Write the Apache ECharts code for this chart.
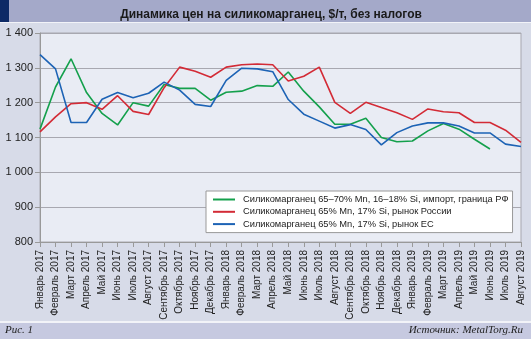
<!DOCTYPE html>
<html><head><meta charset="utf-8">
<script src="https://cdn.jsdelivr.net/npm/echarts@6/dist/echarts.min.js"></script>
<style>html,body{margin:0;padding:0;background:#d7dbe8}#c{width:531px;height:339px}</style>
</head><body><div id="c"></div>
<script>
const categories = ["Январь 2017","Февраль 2017","Март 2017","Апрель 2017","Май 2017","Июнь 2017","Июль 2017","Август 2017","Сентябрь 2017","Октябрь 2017","Ноябрь 2017","Декабрь 2017","Январь 2018","Февраль 2018","Март 2018","Апрель 2018","Май 2018","Июнь 2018","Июль 2018","Август 2018","Сентябрь 2018","Октябрь 2018","Ноябрь 2018","Декабрь 2018","Январь 2019","Февраль 2019","Март 2019","Апрель 2019","Май 2019","Июнь 2019","Июль 2019","Август 2019"];
const importRF = [1124,1245,1326,1229,1169,1136,1200,1190,1252,1241,1241,1207,1230,1233,1249,1247,1288,1233,1188,1138,1138,1155,1100,1088,1090,1119,1140,1124,1095,1067,null,null];
const russia = [1116,1159,1197,1200,1181,1220,1175,1166,1243,1302,1290,1273,1302,1309,1311,1309,1262,1276,1302,1201,1169,1201,1186,1171,1152,1182,1174,1171,1143,1143,1121,1086];
const eu = [1338,1297,1143,1143,1210,1229,1214,1227,1259,1236,1195,1189,1264,1299,1297,1289,1209,1167,1147,1127,1137,1123,1079,1114,1133,1142,1142,1133,1113,1113,1081,1074];
const seriesNames = ["Силикомарганец 65–70% Mn, 16–18% Si, импорт, граница РФ","Силикомарганец 65% Mn, 17% Si, рынок России","Силикомарганец 65% Mn, 17% Si, рынок ЕС"];
const yTicks = {min: 800, max: 1400, interval: 100};

const chart = echarts.init(document.getElementById('c'), null, {renderer: 'canvas'});
const font = '"Liberation Sans", Arial, sans-serif';
const mk = (name, data, color) => ({
  name, type: 'line', data, symbol: 'none', smooth: false, connectNulls: false,
  lineStyle: {color, width: 1.6}, itemStyle: {color}, z: 5
});
chart.setOption({
  animation: false,
  backgroundColor: '#d7dbe8',
  textStyle: {fontFamily: font},
  graphic: [
    {type: 'rect', shape: {x: 0, y: 0, width: 531, height: 22}, style: {fill: '#a4a9c9'}, z: -10},
    {type: 'rect', shape: {x: 0, y: 0, width: 9, height: 22}, style: {fill: '#0d2a66'}, z: -9},
    {type: 'rect', shape: {x: 0, y: 22, width: 531, height: 1}, style: {fill: '#f2f3f8'}, z: -9},
    {type: 'rect', shape: {x: 0, y: 321, width: 531, height: 2}, style: {fill: '#f2f3f8'}, z: -9},
    {type: 'rect', shape: {x: 0, y: 323, width: 531, height: 16}, style: {fill: '#c6c9e0'}, z: -10},
    {type: 'text', left: 5, top: 325, style: {text: 'Рис. 1', font: 'italic 11px "Liberation Serif", serif', fill: '#222'}},
    {type: 'text', right: 8, top: 325, style: {text: 'Источник: MetalTorg.Ru', font: 'italic 11px "Liberation Serif", serif', fill: '#222'}}
  ],
  title: {
    text: 'Динамика цен на силикомарганец, $/т, без налогов',
    left: 266, textAlign: 'center', top: 4,
    textStyle: {fontFamily: font, fontSize: 12, fontWeight: 'bold', color: '#1a1a1a'}
  },
  legend: {
    orient: 'vertical', left: 206, top: 191,
    data: seriesNames,
    backgroundColor: '#ffffff', borderColor: '#999', borderWidth: 1,
    padding: [4, 4, 4, 7], itemGap: 3.3, itemWidth: 22, itemHeight: 10,
    icon: 'path://M0,5L22,5L22,7L0,7Z',
    textStyle: {fontFamily: font, fontSize: 9.3, color: '#222', padding: [0, 0, 0, 3]}
  },
  grid: {left: 40, right: 10, top: 33, bottom: 97, show: true, backgroundColor: '#e9ecf4', borderColor: '#a8a8b0', borderWidth: 1},
  xAxis: {
    type: 'category', data: categories, boundaryGap: false,
    axisLine: {lineStyle: {color: '#999'}},
    axisTick: {show: true, alignWithLabel: true, length: 5, lineStyle: {color: '#999'}},
    axisLabel: {rotate: 90, interval: 0, fontSize: 10, color: '#222', margin: 8, fontFamily: font},
    splitLine: {show: false}
  },
  yAxis: {
    type: 'value', min: yTicks.min, max: yTicks.max, interval: yTicks.interval,
    axisLine: {show: true, lineStyle: {color: '#999'}},
    axisTick: {show: true, length: 5, lineStyle: {color: '#999'}},
    axisLabel: {fontSize: 11, color: '#222', margin: 7, fontFamily: font,
      formatter: v => String(v).replace(/\B(?=(\d{3})+(?!\d))/g, ' ')},
    splitLine: {lineStyle: {color: '#a8a8b0', width: 1}}
  },
  series: [
    mk(seriesNames[0], importRF, '#14a04c'),
    mk(seriesNames[1], russia, '#d32b36'),
    mk(seriesNames[2], eu, '#1d63b5')
  ]
});
</script></body></html>
